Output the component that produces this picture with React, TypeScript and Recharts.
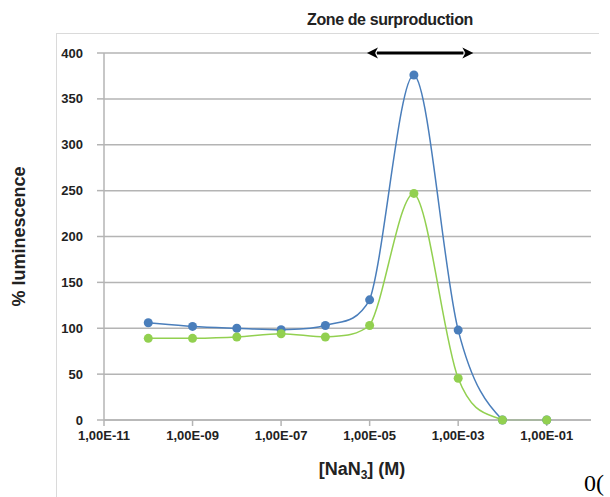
import { Label, Line, LineChart, CartesianGrid, ReferenceLine, XAxis, YAxis } from "recharts";

// concentrations NaN3 (M)
const concentrations = [1e-10, 1e-9, 1e-8, 1e-7, 1e-6, 1e-5, 1e-4, 1e-3, 1e-2, 1e-1];
const serieBleue = [106, 102, 100, 98.5, 103, 131, 376, 98, 0, 0];
const serieVerte = [89, 89, 90.5, 94, 90.5, 103, 247, 45.5, 0, 0];

const xTicks = [1e-11, 1e-9, 1e-7, 1e-5, 1e-3, 1e-1];
const yTicks = [0, 50, 100, 150, 200, 250, 300, 350, 400];

// zone de surproduction (flèche)
const zoneDebut = 8.7e-6;
const zoneFin = 2.2e-3;
const zoneNiveau = 400;

const data = concentrations.map((c, i) => ({
  c,
  bleu: serieBleue[i],
  vert: serieVerte[i],
}));

const BLEU = "#4a7ebb";
const VERT = "#92d050";
const GRILLE = "#b4b4b4";
const FONT = "'Liberation Sans', Arial, sans-serif";

const borne = (v: number, a: number, b: number) => Math.min(Math.max(v, Math.min(a, b)), Math.max(a, b));

/** lissage type Excel (Catmull-Rom), sans dépassement vertical */
function lissage(context: any) {
  let pts: number[][] = [];
  return {
    areaStart() {},
    areaEnd() {},
    lineStart() {
      pts = [];
    },
    point(x: number, y: number) {
      pts.push([+x, +y]);
    },
    lineEnd() {
      if (!pts.length) return;
      context.moveTo(pts[0][0], pts[0][1]);
      for (let i = 0; i < pts.length - 1; i++) {
        const p0 = pts[i - 1] ?? pts[i];
        const p1 = pts[i];
        const p2 = pts[i + 1];
        const p3 = pts[i + 2] ?? pts[i + 1];
        context.bezierCurveTo(
          p1[0] + (p2[0] - p0[0]) / 6,
          borne(p1[1] + (p2[1] - p0[1]) / 6, p1[1], p2[1]),
          p2[0] - (p3[0] - p1[0]) / 6,
          borne(p2[1] - (p3[1] - p1[1]) / 6, p1[1], p2[1]),
          p2[0],
          p2[1]
        );
      }
    },
  };
}

const formatExposant = (v: number) => {
  const e = Math.round(Math.log10(v));
  const s = Math.abs(e).toString().padStart(2, "0");
  return `1,00E${e < 0 ? "-" : "+"}${s}`;
};

function Fleche(props: any) {
  const { x1, y1, x2, y2 } = props;
  const t = 11;
  const h = 5.5;
  return (
    <g>
      <line x1={x1 + t - 1} y1={y1} x2={x2 - t + 1} y2={y2} stroke="#000" strokeWidth={3} />
      <polygon points={`${x1},${y1} ${x1 + t},${y1 - h} ${x1 + t - 3},${y1} ${x1 + t},${y1 + h}`} fill="#000" />
      <polygon points={`${x2},${y2} ${x2 - t},${y2 - h} ${x2 - t + 3},${y2} ${x2 - t},${y2 + h}`} fill="#000" />
    </g>
  );
}

export default function App() {
  return (
    <div style={{ position: "absolute", left: 0, top: 0, width: 610, height: 497, background: "#fff", overflow: "hidden" }}>
      <div
        style={{
          position: "absolute",
          left: 56,
          top: 33,
          width: 542,
          height: 470,
          borderTop: "1px solid #dadada",
          borderLeft: "1px solid #dadada",
        }}
      />
      <div
        style={{
          position: "absolute",
          left: 250,
          width: 280,
          top: 11,
          textAlign: "center",
          fontFamily: FONT,
          fontWeight: "bold",
          fontSize: 16,
          letterSpacing: -0.4,
          color: "#222",
        }}
      >
        Zone de surproduction
      </div>
      <div style={{ position: "absolute", left: 0, top: 0 }}>
        <LineChart width={610} height={497} data={data} margin={{ top: 53, right: 19, bottom: 0, left: 0 }}>
          <CartesianGrid vertical={false} stroke={GRILLE} strokeWidth={1.5} />
          <XAxis
            dataKey="c"
            type="number"
            scale="log"
            domain={[1e-11, 1]}
            ticks={xTicks}
            allowDataOverflow
            height={77}
            tickFormatter={formatExposant}
            tick={{ fontSize: 13, fontWeight: "bold", fill: "#222", fontFamily: FONT }}
            axisLine={{ stroke: GRILLE, strokeWidth: 1.5 }}
            tickLine={{ stroke: GRILLE, strokeWidth: 1.5 }}
            tickSize={6}
            tickMargin={5}
          >
            <Label
              content={(p: any) => {
                const vb = p.viewBox;
                return (
                  <text
                    x={vb.x + 258}
                    y={vb.y + 55}
                    textAnchor="middle"
                    fontFamily={FONT}
                    fontWeight="bold"
                    fontSize={18}
                    fill="#222"
                  >
                    <tspan>[NaN</tspan>
                    <tspan fontSize={12} dy={4}>3</tspan>
                    <tspan dy={-4}>] (M)</tspan>
                  </text>
                );
              }}
            />
          </XAxis>
          <YAxis
            type="number"
            domain={[0, 400]}
            ticks={yTicks}
            width={104}
            tick={{ fontSize: 13, fontWeight: "bold", fill: "#222", fontFamily: FONT }}
            axisLine={{ stroke: GRILLE, strokeWidth: 1.5 }}
            tickLine={{ stroke: GRILLE, strokeWidth: 1.5 }}
            tickSize={7}
            tickMargin={14}
          >
            <Label
              content={(p: any) => {
                const vb = p.viewBox;
                const cx = vb.x + 25;
                const cy = vb.y + vb.height / 2;
                return (
                  <text
                    x={cx}
                    y={cy}
                    transform={`rotate(-90 ${cx} ${cy})`}
                    textAnchor="middle"
                    fontFamily={FONT}
                    fontWeight="bold"
                    fontSize={18}
                    fill="#222"
                  >
                    % luminescence
                  </text>
                );
              }}
            />
          </YAxis>
          <ReferenceLine
            segment={[
              { x: zoneDebut, y: zoneNiveau },
              { x: zoneFin, y: zoneNiveau },
            ]}
            shape={(p: any) => <Fleche {...p} />}
            ifOverflow="visible"
          />
          <Line
            dataKey="bleu"
            type={lissage as any}
            stroke={BLEU}
            strokeWidth={1.5}
            dot={{ r: 4.5, fill: BLEU, stroke: BLEU, strokeWidth: 0 }}
            isAnimationActive={false}
          />
          <Line
            dataKey="vert"
            type={lissage as any}
            stroke={VERT}
            strokeWidth={1.5}
            dot={{ r: 4.5, fill: VERT, stroke: VERT, strokeWidth: 0 }}
            isAnimationActive={false}
          />
        </LineChart>
      </div>
      <span
        style={{
          position: "absolute",
          left: 584,
          top: 470,
          fontFamily: "'Liberation Serif', 'Times New Roman', serif",
          fontSize: 24,
          color: "#000",
        }}
      >
        0(
      </span>
    </div>
  );
}
